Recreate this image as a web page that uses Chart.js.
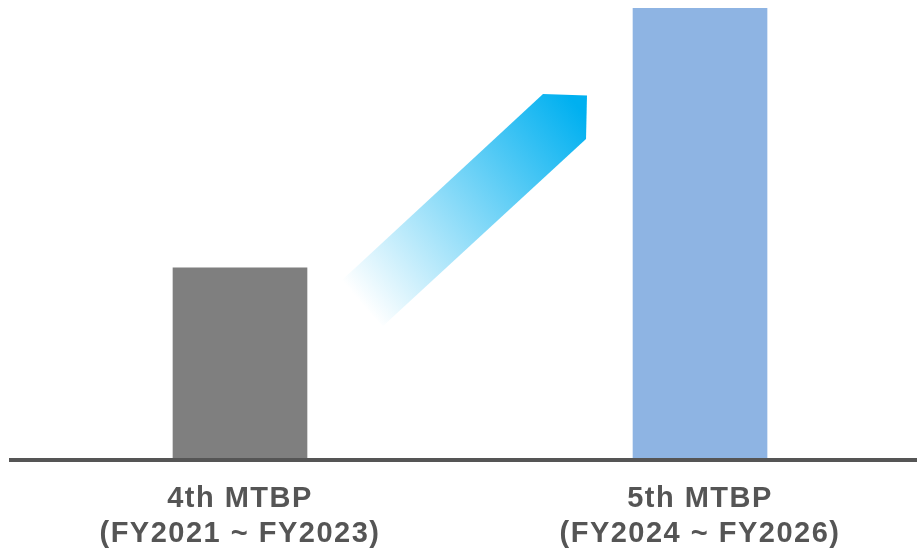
<!DOCTYPE html>
<html>
<head>
<meta charset="utf-8">
<script src="https://cdn.jsdelivr.net/npm/chart.js@4"></script>
<style>
  html, body { margin: 0; padding: 0; background: #ffffff; overflow: hidden; }
  #wrap { width: 917px; height: 549px; position: relative; }
</style>
</head>
<body>
<div id="wrap"><canvas id="c"></canvas></div>
<script>
// ---- data ----
const planNames = ['4th MTBP', '5th MTBP'];
const planPeriods = ['(FY2021 ~ FY2023)', '(FY2024 ~ FY2026)'];
const planValues = [42.5, 100];
const barColors = ['#7f7f7f', '#8eb4e3'];

// decorative growth arrow, in axis units (x: category index, y: value)
const arrowPath = [
  [0.6587, 80.97],
  [0.7543, 80.64],
  [0.7522, 71.02],
  [0.3109, 29.65],
  [0.2174, 39.38]
];

const arrowPlugin = {
  id: 'growthArrow',
  beforeDraw(chart) {
    chart.ctx.letterSpacing = '1.5px';
  },
  afterDatasetsDraw(chart) {
    const {ctx, scales: {x, y}} = chart;
    const pts = arrowPath.map(p => [x.getPixelForValue(p[0]), y.getPixelForValue(p[1])]);
    const tail = [(pts[3][0] + pts[4][0]) / 2, (pts[3][1] + pts[4][1]) / 2];
    const head = [(pts[1][0] + pts[2][0]) / 2, (pts[1][1] + pts[2][1]) / 2];
    const g = ctx.createLinearGradient(tail[0], tail[1], head[0], head[1]);
    g.addColorStop(0, '#ffffff');
    g.addColorStop(1, '#00b0f0');
    ctx.save();
    ctx.beginPath();
    pts.forEach((p, i) => i ? ctx.lineTo(p[0], p[1]) : ctx.moveTo(p[0], p[1]));
    ctx.closePath();
    ctx.fillStyle = g;
    ctx.fill();
    ctx.restore();
  }
};

new Chart(document.getElementById('c'), {
  type: 'bar',
  data: {
    datasets: [{
      data: planValues.map((v, i) => ({x: i, y: v})),
      backgroundColor: barColors,
      borderWidth: 0,
      barThickness: 134
    }]
  },
  options: {
    responsive: true,
    maintainAspectRatio: false,
    animation: false,
    layout: { padding: { top: 8, left: 11, right: 0, bottom: 0 } },
    plugins: { legend: { display: false }, tooltip: { enabled: false } },
    scales: {
      x: {
        type: 'linear',
        offset: false,
        min: -0.4978,
        max: 1.4717,
        bounds: 'data',
        grid: { display: false, drawTicks: false, offset: false },
        border: { display: true, color: '#555555', width: 4, z: 1 },
        afterBuildTicks(scale) {
          scale.ticks = planNames.map((_, i) => ({ value: i }));
        },
        afterFit(scale) { scale.height = 89; },
        ticks: {
          autoSkip: false,
          maxRotation: 0,
          padding: 22,
          color: '#555555',
          font: { family: "'Liberation Sans', Arial, sans-serif", size: 29, weight: 'bold', lineHeight: 1.19 },
          callback: (v) => [planNames[v], planPeriods[v]]
        }
      },
      y: {
        display: false,
        min: 0,
        max: 100
      }
    }
  },
  plugins: [arrowPlugin]
});
</script>
</body>
</html>
